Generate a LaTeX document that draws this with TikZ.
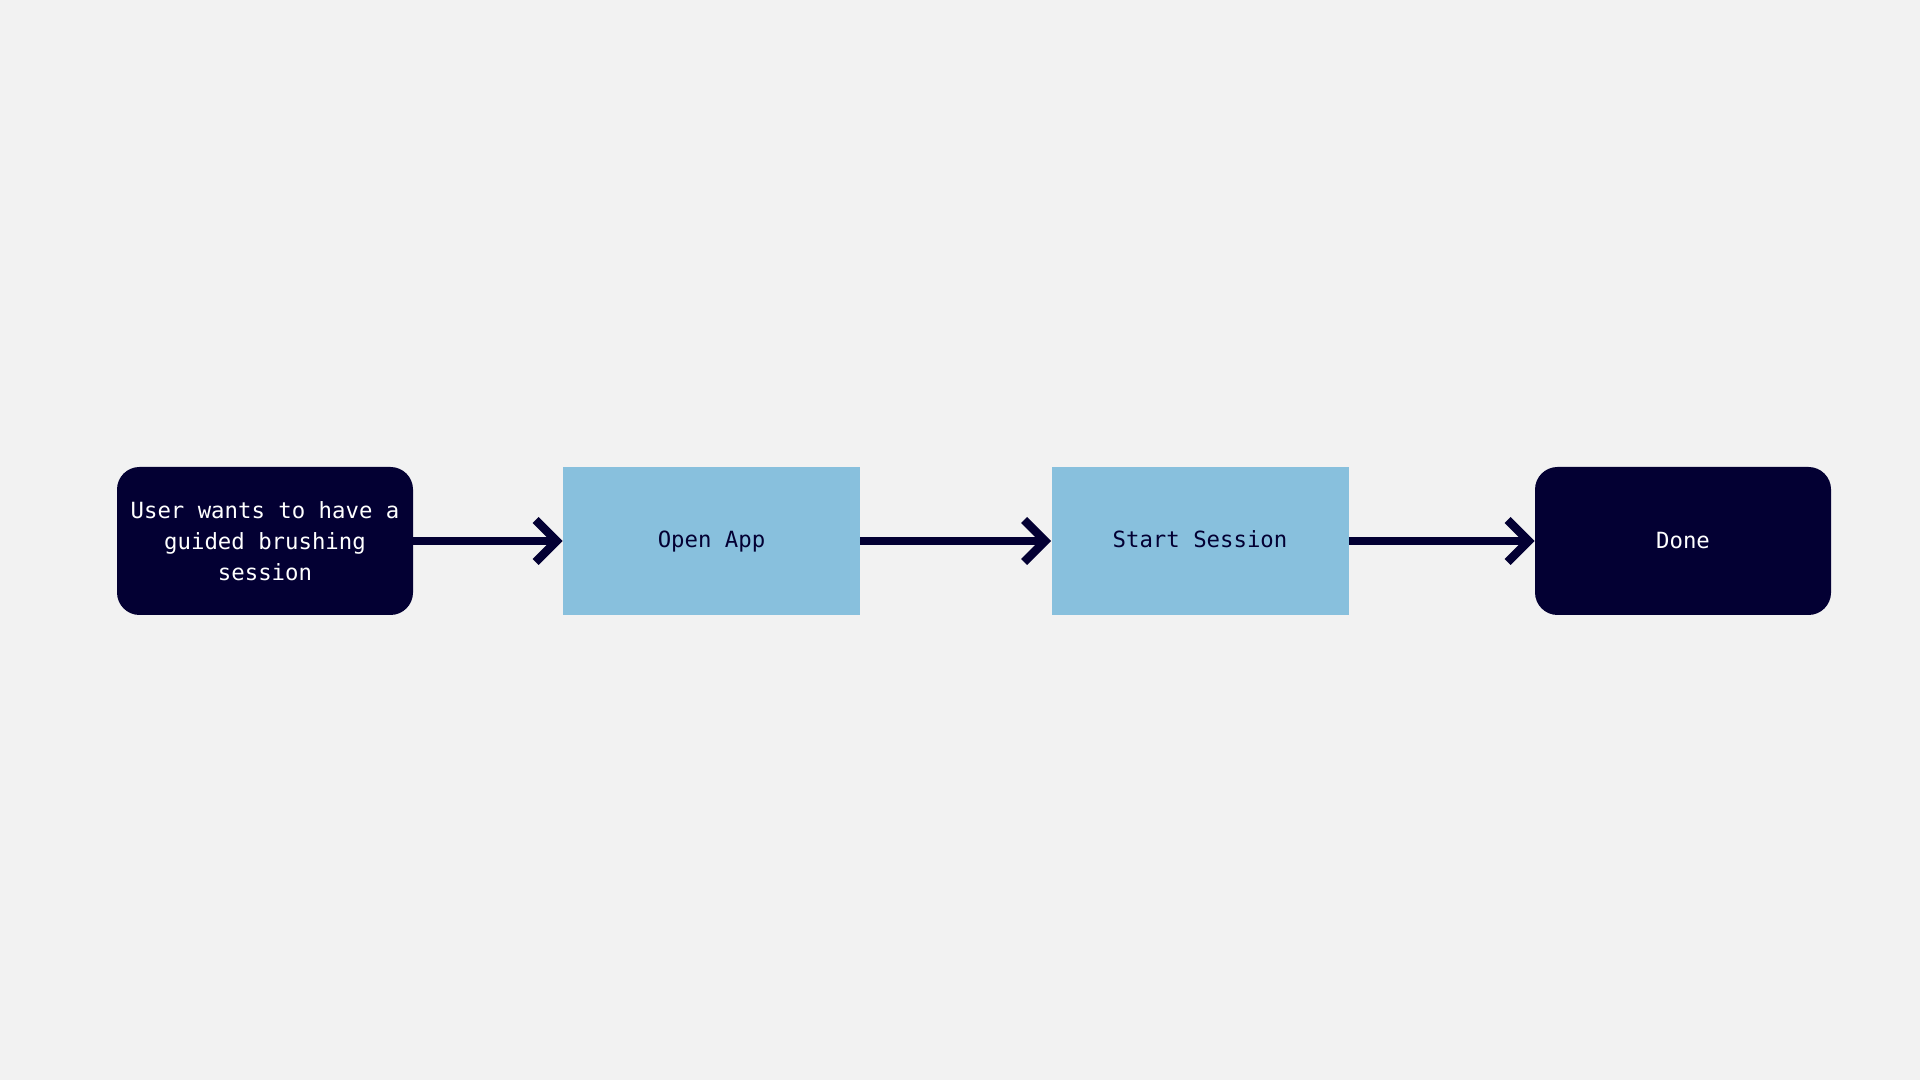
\documentclass[tikz,border=0pt]{standalone}
\usepackage{fontspec}
\setmonofont{DejaVu Sans Mono}
\usepackage{tikz}
\usetikzlibrary{arrows.meta}
\usetikzlibrary{positioning}
\definecolor{pagebg}{HTML}{F2F2F2}
\definecolor{navy}{HTML}{030033}
\definecolor{skyblue}{HTML}{88C0DD}

\begin{document}
\begin{tikzpicture}[
  endbox/.style={rectangle,rounded corners=0.45cm,fill=navy,text=white,minimum width=5.92cm,minimum height=2.96cm,align=center,font=\ttfamily\fontsize{12.7}{17.6}\selectfont},
  stepbox/.style={rectangle,fill=skyblue,text=navy,minimum width=5.94cm,minimum height=2.96cm,text height=0.73em,text depth=0pt,align=center,font=\ttfamily\fontsize{12.7}{17.6}\selectfont},
  flow/.style={draw=navy,line width=0.17cm,-{Straight Barb[length=0.42cm,width=0.84cm,sharp]}}
]
\draw[fill=pagebg,draw=none] (0,0) rectangle (38.4,21.6);

\node[endbox] (U) at (5.3,10.78) {User wants to have a\\guided brushing\\session};
\node[stepbox] (O) at (14.23,10.78) {Open App};
\node[stepbox] (S) at (24.0,10.78) {Start Session};
\node[endbox] (D) at (33.66,10.78) {Done};

\draw[flow] (U.east) -- (O.west);
\draw[flow] (O.east) -- (S.west);
\draw[flow] (S.east) -- (D.west);

\end{tikzpicture}
\end{document}
